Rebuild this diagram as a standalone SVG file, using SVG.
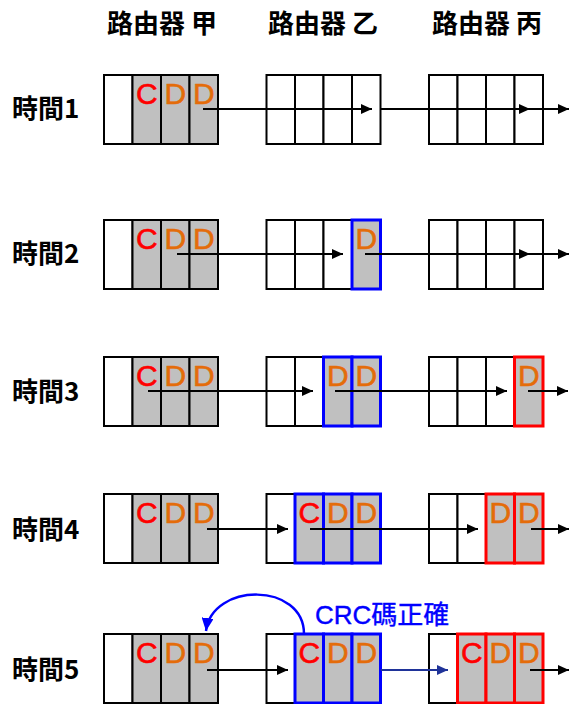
<svg xmlns="http://www.w3.org/2000/svg" width="571" height="704" viewBox="0 0 571 704">
<style>
.bg{fill:#fff}
.c{stroke:#000;stroke-width:2;fill:#fff}
.g{stroke:#000;stroke-width:2;fill:#c0c0c0}
.b{stroke:#0000ff;stroke-width:3;fill:#c0c0c0}
.r{stroke:#ff0000;stroke-width:3;fill:#c0c0c0}
.L{font-family:"Liberation Sans",Arial,sans-serif;font-size:30px;text-anchor:middle;stroke-width:0.6}
.lc{fill:#ff0000;stroke:#ff0000}
.ld{fill:#e46c0a;stroke:#e46c0a}
.h{font-family:"Noto Sans CJK TC","Liberation Sans",sans-serif;font-size:26px;font-weight:bold;fill:#000}
.ln{stroke:#000;stroke-width:2;fill:none;marker-end:url(#ah)}
.lb{stroke:#1f3399;stroke-width:2;fill:none;marker-end:url(#ahb)}
.cv{stroke:#0000ff;stroke-width:2.5;fill:none;marker-end:url(#ahc)}
.crc{font-family:"Liberation Sans","Noto Sans CJK TC",sans-serif;font-size:26px;fill:#0000ff;stroke:#0000ff;stroke-width:0.4}
</style>
<defs>
<marker id="ah" markerUnits="userSpaceOnUse" markerWidth="11" markerHeight="10" refX="11" refY="5" orient="auto"><path d="M0,0 L11,5 L0,10 z" fill="#000"/></marker>
<marker id="ahb" markerUnits="userSpaceOnUse" markerWidth="11" markerHeight="10" refX="11" refY="5" orient="auto"><path d="M0,0 L11,5 L0,10 z" fill="#1f3399"/></marker>
<marker id="ahc" markerUnits="userSpaceOnUse" markerWidth="13" markerHeight="12" refX="13" refY="6" orient="auto"><path d="M0,0 L13,6 L0,12 z" fill="#0000ff"/></marker>
</defs>
<rect class="bg" x="0" y="0" width="571" height="704"/>

<g id="headers">
<text class="h" x="107" y="33">路由器 甲</text>
<text class="h" x="268" y="33">路由器 乙</text>
<text class="h" x="432" y="33">路由器 丙</text>
</g>
<g id="row-labels">
<text class="h" x="12" y="118">時間1</text>
<text class="h" x="12" y="263">時間2</text>
<text class="h" x="12" y="401">時間3</text>
<text class="h" x="12" y="539">時間4</text>
<text class="h" x="12" y="679">時間5</text>
</g>

<!-- Row 1 -->
<g id="t1-a">
<rect class="c" x="104" y="75" width="28.5" height="69"/>
<rect class="g" x="132.5" y="75" width="28.5" height="69"/>
<rect class="g" x="161" y="75" width="28.5" height="69"/>
<rect class="g" x="189.5" y="75" width="28.5" height="69"/>
<text class="L lc" x="146.75" y="104">C</text><text class="L ld" x="175.25" y="104">D</text><text class="L ld" x="203.75" y="104">D</text>
</g>
<g id="t1-b">
<rect class="c" x="266.5" y="75" width="28.5" height="69"/>
<rect class="c" x="295" y="75" width="28.5" height="69"/>
<rect class="c" x="323.5" y="75" width="28.5" height="69"/>
<rect class="c" x="352" y="75" width="28.5" height="69"/>
</g>
<g id="t1-c">
<rect class="c" x="429" y="75" width="28.5" height="69"/>
<rect class="c" x="457.5" y="75" width="28.5" height="69"/>
<rect class="c" x="486" y="75" width="28.5" height="69"/>
<rect class="c" x="514.5" y="75" width="28.5" height="69"/>
</g>

<!-- Row 2 -->
<g id="t2-a">
<rect class="c" x="104" y="220" width="28.5" height="69"/>
<rect class="g" x="132.5" y="220" width="28.5" height="69"/>
<rect class="g" x="161" y="220" width="28.5" height="69"/>
<rect class="g" x="189.5" y="220" width="28.5" height="69"/>
<text class="L lc" x="146.75" y="249">C</text><text class="L ld" x="175.25" y="249">D</text><text class="L ld" x="203.75" y="249">D</text>
</g>
<g id="t2-b">
<rect class="c" x="266.5" y="220" width="28.5" height="69"/>
<rect class="c" x="295" y="220" width="28.5" height="69"/>
<rect class="c" x="323.5" y="220" width="28.5" height="69"/>
<rect class="b" x="352" y="220" width="28.5" height="69"/>
<text class="L ld" x="366.25" y="249">D</text>
</g>
<g id="t2-c">
<rect class="c" x="429" y="220" width="28.5" height="69"/>
<rect class="c" x="457.5" y="220" width="28.5" height="69"/>
<rect class="c" x="486" y="220" width="28.5" height="69"/>
<rect class="c" x="514.5" y="220" width="28.5" height="69"/>
</g>

<!-- Row 3 -->
<g id="t3-a">
<rect class="c" x="104" y="357" width="28.5" height="69"/>
<rect class="g" x="132.5" y="357" width="28.5" height="69"/>
<rect class="g" x="161" y="357" width="28.5" height="69"/>
<rect class="g" x="189.5" y="357" width="28.5" height="69"/>
<text class="L lc" x="146.75" y="386">C</text><text class="L ld" x="175.25" y="386">D</text><text class="L ld" x="203.75" y="386">D</text>
</g>
<g id="t3-b">
<rect class="c" x="266.5" y="357" width="28.5" height="69"/>
<rect class="c" x="295" y="357" width="28.5" height="69"/>
<rect class="b" x="323.5" y="357" width="28.5" height="69"/>
<rect class="b" x="352" y="357" width="28.5" height="69"/>
<text class="L ld" x="337.75" y="386">D</text><text class="L ld" x="366.25" y="386">D</text>
</g>
<g id="t3-c">
<rect class="c" x="429" y="357" width="28.5" height="69"/>
<rect class="c" x="457.5" y="357" width="28.5" height="69"/>
<rect class="c" x="486" y="357" width="28.5" height="69"/>
<rect class="r" x="514.5" y="357" width="28.5" height="69"/>
<text class="L ld" x="528.75" y="386">D</text>
</g>

<!-- Row 4 -->
<g id="t4-a">
<rect class="c" x="104" y="494" width="28.5" height="69"/>
<rect class="g" x="132.5" y="494" width="28.5" height="69"/>
<rect class="g" x="161" y="494" width="28.5" height="69"/>
<rect class="g" x="189.5" y="494" width="28.5" height="69"/>
<text class="L lc" x="146.75" y="523">C</text><text class="L ld" x="175.25" y="523">D</text><text class="L ld" x="203.75" y="523">D</text>
</g>
<g id="t4-b">
<rect class="c" x="266.5" y="494" width="28.5" height="69"/>
<rect class="b" x="295" y="494" width="28.5" height="69"/>
<rect class="b" x="323.5" y="494" width="28.5" height="69"/>
<rect class="b" x="352" y="494" width="28.5" height="69"/>
<text class="L lc" x="309.25" y="523">C</text><text class="L ld" x="337.75" y="523">D</text><text class="L ld" x="366.25" y="523">D</text>
</g>
<g id="t4-c">
<rect class="c" x="429" y="494" width="28.5" height="69"/>
<rect class="c" x="457.5" y="494" width="28.5" height="69"/>
<rect class="r" x="486" y="494" width="28.5" height="69"/>
<rect class="r" x="514.5" y="494" width="28.5" height="69"/>
<text class="L ld" x="500.25" y="523">D</text><text class="L ld" x="528.75" y="523">D</text>
</g>

<!-- Row 5 -->
<g id="t5-a">
<rect class="c" x="104" y="634" width="28.5" height="69"/>
<rect class="g" x="132.5" y="634" width="28.5" height="69"/>
<rect class="g" x="161" y="634" width="28.5" height="69"/>
<rect class="g" x="189.5" y="634" width="28.5" height="69"/>
<text class="L lc" x="146.75" y="663">C</text><text class="L ld" x="175.25" y="663">D</text><text class="L ld" x="203.75" y="663">D</text>
</g>
<g id="t5-b">
<rect class="c" x="266.5" y="634" width="28.5" height="69"/>
<rect class="b" x="295" y="634" width="28.5" height="69"/>
<rect class="b" x="323.5" y="634" width="28.5" height="69"/>
<rect class="b" x="352" y="634" width="28.5" height="69"/>
<text class="L lc" x="309.25" y="663">C</text><text class="L ld" x="337.75" y="663">D</text><text class="L ld" x="366.25" y="663">D</text>
</g>
<g id="t5-c">
<rect class="c" x="429" y="634" width="28.5" height="69"/>
<rect class="r" x="457.5" y="634" width="28.5" height="69"/>
<rect class="r" x="486" y="634" width="28.5" height="69"/>
<rect class="r" x="514.5" y="634" width="28.5" height="69"/>
<text class="L lc" x="471.75" y="663">C</text><text class="L ld" x="500.25" y="663">D</text><text class="L ld" x="528.75" y="663">D</text>
</g>

<g id="crc-label">
<text class="crc" x="315" y="624">CRC碼正確</text>
</g>

<g id="connectors">
<path class="ln" d="M203,109 H372"/>
<path class="ln" d="M381,109 H530"/>
<path class="ln" d="M530,109 H569"/>

<path class="ln" d="M177,254 H343"/>
<path class="ln" d="M365,254 H530"/>
<path class="ln" d="M530,254 H569"/>

<path class="ln" d="M148,391 H313"/>
<path class="ln" d="M335,391 H507"/>
<path class="ln" d="M528,391 H568"/>

<path class="ln" d="M207,529 H288"/>
<path class="ln" d="M310,529 H478"/>
<path class="ln" d="M531,529 H569"/>

<path class="ln" d="M207,670 H288"/>
<path class="lb" d="M381,670 H448"/>
<path class="ln" d="M530,670 H569"/>

<path class="cv" d="M304,634 C304,582 212,582 206,631"/>
</g>
</svg>
